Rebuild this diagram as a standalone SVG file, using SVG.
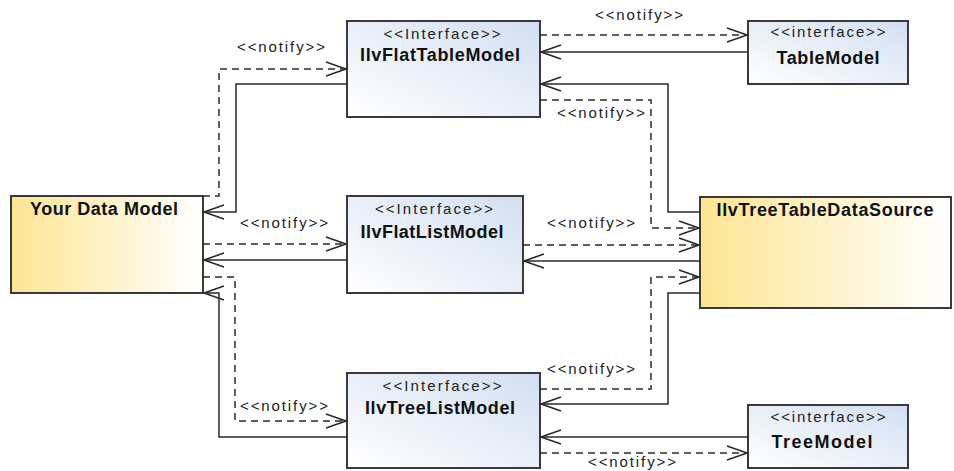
<svg xmlns="http://www.w3.org/2000/svg" width="954" height="471" viewBox="0 0 954 471">
  <defs>
    <linearGradient id="gYellow" x1="0" y1="0" x2="1" y2="0">
      <stop offset="0" stop-color="#fde592"/>
      <stop offset="1" stop-color="#ffffff"/>
    </linearGradient>
    <linearGradient id="gBlue" x1="0" y1="1" x2="1" y2="0">
      <stop offset="0" stop-color="#ffffff"/>
      <stop offset="1" stop-color="#d2dff2"/>
    </linearGradient>
    <marker id="open" markerUnits="userSpaceOnUse" markerWidth="24" markerHeight="18" viewBox="-22 -9 24 18" refX="0" refY="0" orient="auto" overflow="visible">
      <path d="M-20,-7 L0,0 L-20,7" fill="none" stroke="#2a2a2a" stroke-width="1.6"/>
    </marker>
    <style>
      .box { stroke: #3a3a3a; stroke-width: 2; }
      .yellow { fill: url(#gYellow); }
      .blue { fill: url(#gBlue); }
      .title { font-family: "Liberation Sans", Arial, sans-serif; font-weight: bold; font-size: 18px; fill: #111; text-anchor: middle; }
      .stereo { font-family: "Liberation Sans", Arial, sans-serif; font-size: 15px; fill: #222; text-anchor: middle; }
      .lbl { font-family: "Liberation Sans", Arial, sans-serif; font-size: 15px; fill: #222; text-anchor: middle; }
      .solid { fill: none; stroke: #2a2a2a; stroke-width: 1.5; marker-end: url(#open); }
      .dash { fill: none; stroke: #2a2a2a; stroke-width: 1.5; stroke-dasharray: 7 5; marker-end: url(#open); }
    </style>
  </defs>

  <rect width="954" height="471" fill="#ffffff"/>

  <!-- nodes -->
  <g id="your-data-model">
    <rect class="box yellow" x="11" y="196" width="192" height="97"/>
    <text class="title" x="104" y="215" textLength="148" lengthAdjust="spacing">Your Data Model</text>
  </g>

  <g id="ilv-flat-table-model">
    <rect class="box blue" x="347" y="21" width="193" height="96"/>
    <text class="stereo" x="442" y="39" textLength="117" lengthAdjust="spacing">&lt;&lt;Interface&gt;&gt;</text>
    <text class="title" x="440" y="61" textLength="160" lengthAdjust="spacing">IlvFlatTableModel</text>
  </g>

  <g id="ilv-flat-list-model">
    <rect class="box blue" x="347" y="196" width="176" height="97"/>
    <text class="stereo" x="434" y="214" textLength="118" lengthAdjust="spacing">&lt;&lt;Interface&gt;&gt;</text>
    <text class="title" x="432" y="238" textLength="143" lengthAdjust="spacing">IlvFlatListModel</text>
  </g>

  <g id="ilv-tree-list-model">
    <rect class="box blue" x="347" y="373" width="193" height="95"/>
    <text class="stereo" x="442" y="391" textLength="119" lengthAdjust="spacing">&lt;&lt;Interface&gt;&gt;</text>
    <text class="title" x="440" y="414" textLength="150" lengthAdjust="spacing">IlvTreeListModel</text>
  </g>

  <g id="table-model">
    <rect class="box blue" x="748" y="21" width="160" height="63"/>
    <text class="stereo" x="828" y="37" textLength="115" lengthAdjust="spacing">&lt;&lt;interface&gt;&gt;</text>
    <text class="title" x="828" y="64" textLength="103" lengthAdjust="spacing">TableModel</text>
  </g>

  <g id="tree-model">
    <rect class="box blue" x="748" y="405" width="160" height="63"/>
    <text class="stereo" x="828" y="422" textLength="115" lengthAdjust="spacing">&lt;&lt;interface&gt;&gt;</text>
    <text class="title" x="822" y="448" textLength="101" lengthAdjust="spacing">TreeModel</text>
  </g>

  <g id="ilv-tree-table-data-source">
    <rect class="box yellow" x="700" y="197" width="251" height="111"/>
    <text class="title" x="825" y="216" textLength="217" lengthAdjust="spacing">IlvTreeTableDataSource</text>
  </g>

  <!-- connectors -->
  <g id="connectors">
    <!-- Your Data Model <-> IlvFlatTableModel -->
    <path class="dash" d="M203,196 H219 V69 H346"/>
    <path class="solid" d="M347,84 H236 V212 H204"/>
    <!-- Your Data Model <-> IlvFlatListModel -->
    <path class="dash" d="M203,244 H346"/>
    <path class="solid" d="M347,260 H204"/>
    <!-- Your Data Model <-> IlvTreeListModel -->
    <path class="dash" d="M203,277 H235 V421 H346"/>
    <path class="solid" d="M347,437 H219 V293 H204"/>

    <!-- IlvFlatTableModel <-> TableModel -->
    <path class="dash" d="M540,35 H747"/>
    <path class="solid" d="M748,52 H541"/>

    <!-- IlvFlatTableModel <-> IlvTreeTableDataSource -->
    <path class="solid" d="M700,212 H668 V84 H541"/>
    <path class="dash" d="M540,100 H651 V228 H699"/>

    <!-- IlvFlatListModel <-> IlvTreeTableDataSource -->
    <path class="dash" d="M523,245 H699"/>
    <path class="solid" d="M700,261 H524"/>

    <!-- IlvTreeListModel <-> IlvTreeTableDataSource -->
    <path class="dash" d="M540,389 H651 V277 H699"/>
    <path class="solid" d="M700,293 H668 V404 H541"/>

    <!-- IlvTreeListModel <-> TreeModel -->
    <path class="solid" d="M748,437 H541"/>
    <path class="dash" d="M540,453 H747"/>

    <!-- labels -->
    <text class="lbl" x="281" y="52" textLength="88" lengthAdjust="spacing">&lt;&lt;notify&gt;&gt;</text>
    <text class="lbl" x="284" y="228" textLength="88" lengthAdjust="spacing">&lt;&lt;notify&gt;&gt;</text>
    <text class="lbl" x="284" y="411" textLength="88" lengthAdjust="spacing">&lt;&lt;notify&gt;&gt;</text>
    <text class="lbl" x="639" y="20" textLength="88" lengthAdjust="spacing">&lt;&lt;notify&gt;&gt;</text>
    <text class="lbl" x="601" y="118" textLength="88" lengthAdjust="spacing">&lt;&lt;notify&gt;&gt;</text>
    <text class="lbl" x="591" y="228" textLength="88" lengthAdjust="spacing">&lt;&lt;notify&gt;&gt;</text>
    <text class="lbl" x="591" y="374" textLength="88" lengthAdjust="spacing">&lt;&lt;notify&gt;&gt;</text>
    <text class="lbl" x="632" y="467" textLength="88" lengthAdjust="spacing">&lt;&lt;notify&gt;&gt;</text>
  </g>
</svg>
